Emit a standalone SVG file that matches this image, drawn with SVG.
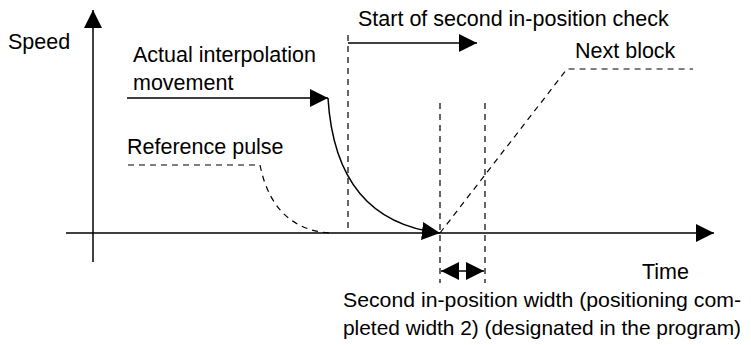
<svg xmlns="http://www.w3.org/2000/svg" width="751" height="345" viewBox="0 0 751 345">
<style>
text{font-family:"Liberation Sans",Arial,sans-serif;font-size:21.5px;fill:#000}
.b{font-size:21px}
.s{stroke:#000;stroke-width:1.5;fill:none}
.d{stroke:#000;stroke-width:1.2;fill:none;stroke-dasharray:6 5}
</style>
<defs>
<marker id="ah" viewBox="0 0 10 10" refX="10" refY="5" markerWidth="18" markerHeight="18" markerUnits="userSpaceOnUse" orient="auto-start-reverse">
<path d="M0,0 L10,5 L0,10 Z" fill="#000"/>
</marker>
</defs>
<g id="axes">
<line class="s" x1="93" y1="262" x2="93" y2="10" marker-end="url(#ah)"/>
<line class="s" x1="66" y1="233" x2="714" y2="233" marker-end="url(#ah)"/>
</g>
<g id="labels">
<text x="8" y="49">Speed</text>
<text x="133" y="62">Actual interpolation</text>
<text x="133" y="90">movement</text>
<text x="358" y="26">Start of second in-position check</text>
<text x="575" y="58">Next block</text>
<text x="127" y="154">Reference pulse</text>
<text x="642" y="279">Time</text>
<text class="b" x="343" y="307" textLength="398" lengthAdjust="spacingAndGlyphs">Second in-position width (positioning com-</text>
<text class="b" x="343" y="335" textLength="398" lengthAdjust="spacingAndGlyphs">pleted width 2) (designated in the program)</text>
</g>
<g id="connectors">
<line class="s" x1="127" y1="98" x2="328" y2="98" marker-end="url(#ah)"/>
<path class="s" d="M328,98 C333,180 370,225 440,233" marker-end="url(#ah)"/>
<path class="d" d="M128,165 L260,165 C270,215 300,232 332,233"/>
<line class="d" x1="348" y1="35" x2="348" y2="233"/>
<line class="s" x1="348" y1="43" x2="477" y2="43" marker-end="url(#ah)"/>
<line class="d" x1="440" y1="103" x2="440" y2="283"/>
<line class="d" x1="485" y1="103" x2="485" y2="283"/>
<line class="s" x1="441" y1="271" x2="484" y2="271" marker-start="url(#ah)" marker-end="url(#ah)"/>
<path class="d" d="M440,233 L567,69 L693,69"/>
</g>
</svg>
